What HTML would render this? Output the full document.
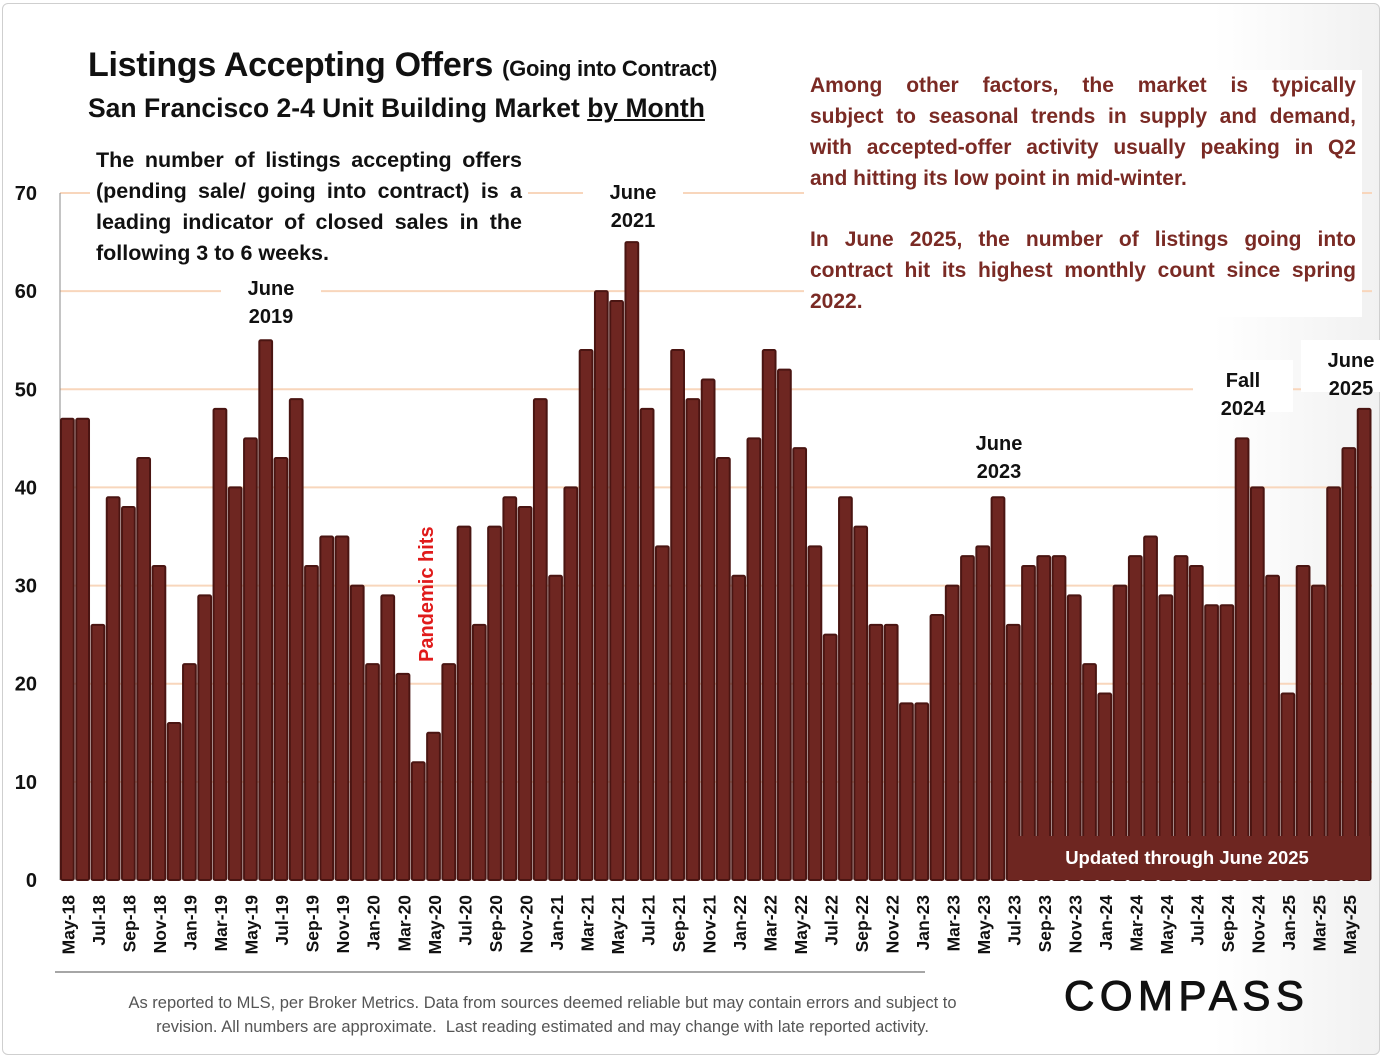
<!DOCTYPE html>
<html><head><meta charset="utf-8"><style>
body{margin:0;width:1384px;height:1062px;background:#fff;overflow:hidden;font-family:"Liberation Sans","DejaVu Sans",sans-serif}
#frame{position:absolute;left:2px;top:3px;width:1376px;height:1050px;border:1px solid #cfcfcf;border-radius:6px;background:linear-gradient(90deg,#fff 88%,#f1f1f1 100%)}
.t{position:absolute;font-weight:bold}
.j{text-align:justify;text-align-last:justify;white-space:nowrap}
.l{white-space:nowrap}
</style></head><body>
<div id="frame"></div>
<svg id="chart" width="1384" height="1062" style="position:absolute;left:0;top:0"></svg>
<div class="t" style="left:88px;top:46px;font-size:34px;letter-spacing:-0.3px;color:#111">Listings Accepting Offers <span style="font-size:22px">(Going into Contract)</span></div>
<div class="t" style="left:88px;top:93px;font-size:26.5px;color:#111">San Francisco 2-4 Unit Building Market <u>by Month</u></div>
<div class="t" style="left:90px;top:145px;width:426px;padding:0 6px;font-size:21.5px;line-height:31px;background:#fff;color:#111">
<div class="j">The number of listings accepting offers</div><div class="j">(pending sale/ going into contract) is a</div><div class="j">leading indicator of closed sales in the</div><div class="l">following 3 to 6 weeks.</div></div>
<div class="t" style="left:804px;top:70px;width:546px;padding:0 6px;font-size:21px;line-height:31px;background:#fff;color:#7a2a24">
<div class="j">Among other factors, the market is typically</div><div class="j">subject to seasonal trends in supply and demand,</div><div class="j">with accepted-offer activity usually peaking in Q2</div><div class="l">and hitting its low point in mid-winter.</div><div style="height:30px"></div><div class="j">In June 2025, the number of listings going into</div><div class="j">contract hit its highest monthly count since spring</div><div class="l">2022.</div></div>
<div class="t" style="left:40px;top:991px;width:1005px;text-align:center;font-size:16.5px;line-height:24px;font-weight:normal;color:#555">As reported to MLS, per Broker Metrics. Data from sources deemed reliable but may contain errors and subject to<br>revision. All numbers are approximate.&nbsp; Last reading estimated and may change with late reported activity.</div>
<div style="position:absolute;left:1064px;top:972px;font-size:42px;letter-spacing:5.5px;color:#111;-webkit-text-stroke:1px #111">COMPASS</div>
<script>
const categories=["May-18","Jun-18","Jul-18","Aug-18","Sep-18","Oct-18","Nov-18","Dec-18","Jan-19","Feb-19","Mar-19","Apr-19","May-19","Jun-19","Jul-19","Aug-19","Sep-19","Oct-19","Nov-19","Dec-19","Jan-20","Feb-20","Mar-20","Apr-20","May-20","Jun-20","Jul-20","Aug-20","Sep-20","Oct-20","Nov-20","Dec-20","Jan-21","Feb-21","Mar-21","Apr-21","May-21","Jun-21","Jul-21","Aug-21","Sep-21","Oct-21","Nov-21","Dec-21","Jan-22","Feb-22","Mar-22","Apr-22","May-22","Jun-22","Jul-22","Aug-22","Sep-22","Oct-22","Nov-22","Dec-22","Jan-23","Feb-23","Mar-23","Apr-23","May-23","Jun-23","Jul-23","Aug-23","Sep-23","Oct-23","Nov-23","Dec-23","Jan-24","Feb-24","Mar-24","Apr-24","May-24","Jun-24","Jul-24","Aug-24","Sep-24","Oct-24","Nov-24","Dec-24","Jan-25","Feb-25","Mar-25","Apr-25","May-25","Jun-25"];
const values=[47,47,26,39,38,43,32,16,22,29,48,40,45,55,43,49,32,35,35,30,22,29,21,12,15,22,36,26,36,39,38,49,31,40,54,60,59,65,48,34,54,49,51,43,31,45,54,52,44,34,25,39,36,26,26,18,18,27,30,33,34,39,26,32,33,33,29,22,19,30,33,35,29,33,32,28,28,45,40,31,19,32,30,40,44,48];
const yTicks=[0,10,20,30,40,50,60,70];
const NS="http://www.w3.org/2000/svg",svg=document.getElementById('chart');
const x0=60,x1=1372,yB=880,yT=193,yMax=70;
const slot=(x1-x0)/categories.length;
const xs=i=>x0+i*slot;
const ys=v=>yB-(v/yMax)*(yB-yT);
function mk(t,a){const e=document.createElementNS(NS,t);for(const k in a)e.setAttribute(k,a[k]);svg.appendChild(e);return e;}
yTicks.forEach(v=>{
 if(v>0){const g=mk('line',{x1:x0,x2:x1,y1:ys(v),y2:ys(v),stroke:'#f8d6bc','stroke-width':2});
 
 }
 const t=mk('text',{x:37,y:ys(v)+7,'text-anchor':'end','font-size':20,'font-weight':'bold',fill:'#111'});t.textContent=v;
 
 
});
const ax=mk('line',{x1:x0,x2:x0,y1:yT,y2:yB,stroke:'#888','stroke-width':1});


values.forEach((v,i)=>{
 const r=mk('rect',{x:xs(i)+1,y:ys(v),width:slot-2.5,height:yB-ys(v),fill:'#6e2621',stroke:'#4a1512','stroke-width':2,rx:1.5});
 
 
 if(i%2===0){const cx=xs(i)+slot/2+7;
  const t=mk('text',{x:0,y:0,transform:`translate(${cx},895) rotate(-90)`,'text-anchor':'end','font-size':17.5,'font-weight':'bold',fill:'#111'});t.textContent=categories[i];
  
  }
});
const bl=mk('line',{x1:55,x2:925,y1:972,y2:972,stroke:'#888','stroke-width':1.5});


const ub=mk('rect',{x:1008,y:836,width:362,height:44,fill:'#6e2621'});


const ut=mk('text',{x:1187,y:864,'text-anchor':'middle','font-size':18.5,'font-weight':'bold',fill:'#fff'});ut.textContent='Updated through June 2025';


const notes=[["June","2019",271,288],["June","2021",633,192],["June","2023",999,443],["Fall","2024",1243,380],["June","2025",1351,360]];
notes.forEach(n=>{
 const bg=mk('rect',{x:n[2]-50,y:n[3]-20,width:100,height:52,fill:'#fff'});
 
 
 [0,1].forEach(k=>{const t=mk('text',{x:n[2],y:n[3]+7+k*28,'text-anchor':'middle','font-size':20,'font-weight':'bold',fill:'#111'});t.textContent=n[k];
 
 });
});
const ph=mk('text',{x:0,y:0,transform:'translate(433,662) rotate(-90)','font-size':20,'font-weight':'bold',fill:'#e01b1b'});ph.textContent='Pandemic hits';


</script>
</body></html>
